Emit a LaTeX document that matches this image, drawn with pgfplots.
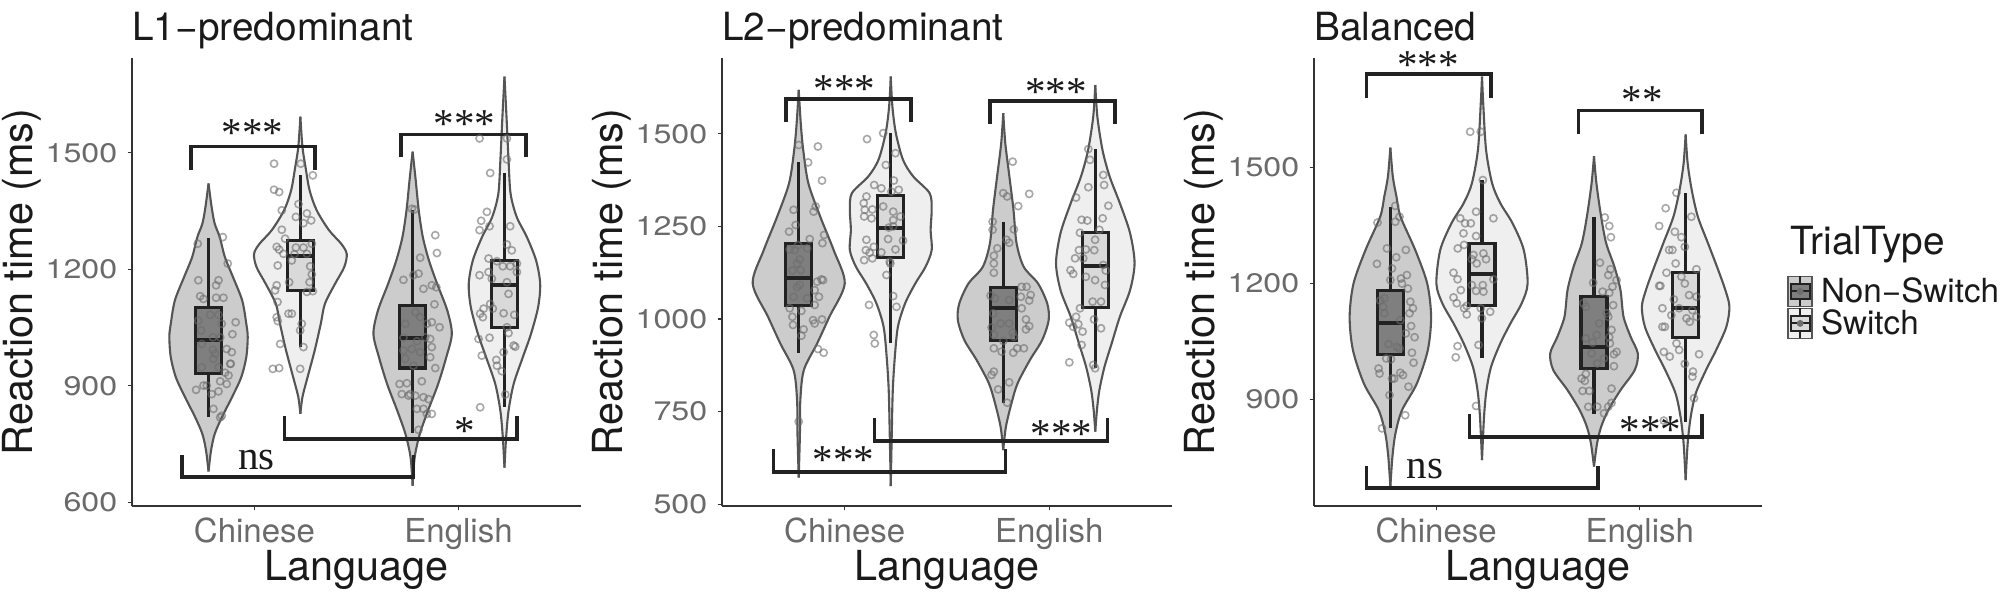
\documentclass[border=0pt]{standalone}
\usepackage{fontspec}
\setmainfont{TeX Gyre Heros}
\newfontfamily\seriffont{Liberation Serif}
\newfontfamily\tickfont{TeX Gyre Heros}[FakeStretch=1.2]
\usepackage{pgfplots}
\pgfplotsset{compat=1.18}
\usepackage{pgfplotstable}

\definecolor{vNS}{HTML}{CCCCCC}
\definecolor{vS}{HTML}{EFEFEF}
\definecolor{bNS}{HTML}{7F7F7F}
\definecolor{bS}{HTML}{D9D9D9}
\definecolor{vline}{HTML}{555555}
\definecolor{bline}{HTML}{222222}
\definecolor{ptc}{HTML}{6E6E6E}
\definecolor{tickc}{HTML}{6A6A6A}
\definecolor{axc}{HTML}{333333}
\definecolor{txt}{HTML}{1A1A1A}

\newcommand{\ticksize}{\fontsize{16.5pt}{18pt}\selectfont}
\newcommand{\yticksize}{\tickfont\fontsize{13.4pt}{16pt}\selectfont}
\newcommand{\labsize}{\fontsize{20.7pt}{24pt}\selectfont}
\newcommand{\titsize}{\fontsize{19.4pt}{22pt}\selectfont}
\newcommand{\sigfont}{\seriffont\fontsize{20.5pt}{22pt}\selectfont}

% violin half-widths (x units) at reaction-time levels
\pgfplotstableread{
y w
680 0
733 0.012
776 0.03
819 0.065
871 0.115
922 0.16
974 0.185
1026 0.192
1060 0.185
1120 0.165
1180 0.12
1232 0.08
1283 0.055
1318 0.03
1361 0.015
1421 0
}\vAcn
\pgfplotstableread{
y w
828 0
871 0.01
922 0.035
991 0.07
1060 0.1
1111 0.12
1163 0.17
1206 0.215
1240 0.227
1266 0.2
1301 0.14
1352 0.08
1404 0.045
1464 0.025
1516 0.01
1593 0
}\vAcs
\pgfplotstableread{
y w
643 0
716 0.01
776 0.035
836 0.075
905 0.125
974 0.165
1034 0.192
1094 0.17
1163 0.12
1223 0.08
1283 0.05
1352 0.03
1430 0.015
1503 0
}\vAen
\pgfplotstableread{
y w
690 0
767 0.008
836 0.02
905 0.045
974 0.09
1034 0.13
1103 0.165
1163 0.175
1223 0.155
1283 0.11
1335 0.06
1395 0.03
1481 0.02
1593 0.01
1696 0
}\vAes
\pgfplotstableread{
y w
572 0
690 0.006
781 0.008
862 0.025
934 0.09
1006 0.15
1096 0.225
1186 0.171
1277 0.105
1367 0.047
1457 0.022
1529 0.01
1619 0
}\vBcn
\pgfplotstableread{
y w
549 0
691 0.005
808 0.01
898 0.02
979 0.035
1042 0.07
1096 0.12
1141 0.17
1186 0.2
1241 0.195
1295 0.2
1340 0.19
1385 0.11
1430 0.06
1502 0.025
1574 0.008
1655 0
}\vBcs
\pgfplotstableread{
y w
646 0
709 0.013
772 0.04
826 0.07
889 0.13
943 0.19
997 0.222
1042 0.215
1096 0.17
1141 0.1
1205 0.065
1295 0.05
1385 0.03
1475 0.01
1556 0
}\vBen
\pgfplotstableread{
y w
696 0
754 0.008
808 0.02
871 0.045
934 0.08
1006 0.12
1078 0.17
1151 0.192
1232 0.17
1313 0.12
1385 0.07
1457 0.035
1547 0.01
1632 0
}\vBes
\pgfplotstableread{
y w
674 0
751 0.01
812 0.025
872 0.057
941 0.13
1028 0.184
1114 0.2
1200 0.181
1287 0.122
1373 0.05
1425 0.03
1477 0.012
1552 0
}\vCcn
\pgfplotstableread{
y w
743 0
855 0.01
924 0.022
985 0.045
1045 0.09
1097 0.14
1149 0.195
1200 0.224
1287 0.205
1356 0.15
1408 0.09
1459 0.05
1546 0.02
1667 0.006
1736 0
}\vCcs
\pgfplotstableread{
y w
726 0
786 0.015
829 0.035
872 0.07
924 0.13
976 0.2
1019 0.215
1062 0.18
1114 0.145
1183 0.13
1244 0.1
1304 0.06
1373 0.035
1459 0.012
1530 0
}\vCen
\pgfplotstableread{
y w
691 0
786 0.01
855 0.025
916 0.05
976 0.1
1028 0.15
1088 0.2
1140 0.215
1183 0.195
1235 0.16
1304 0.11
1373 0.06
1442 0.03
1511 0.01
1586 0
}\vCes

% #1 table, #2 centre, #3 fill colour
\newcommand{\violin}[3]{%
  \addplot[forget plot, smooth, fill=#3, draw=#3, line width=0.4pt] table[x expr=#2+\thisrow{w}, y=y]{#1} -- cycle;
  \addplot[forget plot, smooth, fill=#3, draw=#3, line width=0.4pt] table[x expr=#2-\thisrow{w}, y=y]{#1} -- cycle;
  \addplot[forget plot, smooth, draw=vline, line width=1.05pt] table[x expr=#2+\thisrow{w}, y=y]{#1};
  \addplot[forget plot, smooth, draw=vline, line width=1.05pt] table[x expr=#2-\thisrow{w}, y=y]{#1};
}
% #1 left, #2 centre, #3 right, #4 median, #5 upper quartile, #6 lower quartile, #7 upper whisker, #8 lower whisker, #9 fill
\newcommand{\bx}[9]{%
  \addplot[forget plot, line width=1.6pt, draw=bline] coordinates {(#2,#5) (#2,#7)};
  \addplot[forget plot, line width=1.6pt, draw=bline] coordinates {(#2,#6) (#2,#8)};
  \addplot[forget plot, line width=1.6pt, draw=bline, fill=#9] coordinates {(#1,#6) (#3,#6) (#3,#5) (#1,#5)} -- cycle;
  \addplot[forget plot, line width=2pt, draw=bline] coordinates {(#1,#4) (#3,#4)};
}
\newcommand{\brk}[4]{%
  \addplot[forget plot, line width=1.8pt, color=bline] coordinates {(#1,#4) (#1,#3) (#2,#3) (#2,#4)};
}
\newcommand{\keyimg}[2]{%
  \draw[draw=vline, fill=#1, line width=0.8pt] (0pt,-7.5pt) rectangle (12pt,7.5pt);
  \draw[draw=bline, line width=1pt] (6pt,-7.5pt) -- (6pt,7.5pt);
  \draw[draw=bline, fill=#2, line width=1pt] (1.2pt,-3.8pt) rectangle (10.8pt,3.8pt);
  \draw[draw=bline, line width=1pt] (1.2pt,0pt) -- (10.8pt,0pt);
  \fill[ptc] (6pt,0pt) circle (1.5pt);
}

\pgfplotsset{
  rtstyle/.style={
    scale only axis, height=224pt,
    xmin=0.4, xmax=2.6, xtick={1,2}, xticklabels={Chinese,English},
    axis lines=left, axis line style={-, draw=axc, line width=0.55pt},
    tick align=outside, major tick length=2.2pt, tick style={draw=axc, line width=0.55pt},
    clip=false,
    xticklabel style={font=\ticksize, text=tickc, anchor=base, yshift=-16pt, inner sep=0pt},
    yticklabel style={font=\yticksize, text=tickc, anchor=east, xshift=-5pt, inner sep=0pt},
    xlabel={Language},
    xlabel style={at={(axis description cs:0.5,0)}, anchor=base, yshift=-37pt, font=\labsize, text=txt, inner sep=0pt},
    ylabel={Reaction time (ms)},
    ylabel style={at={(axis description cs:-0.245,0.5)}, anchor=center, font=\labsize, text=txt, inner sep=0pt},
    every axis title shift/.style={yshift=0pt},
    title style={at={(axis description cs:0,1)}, anchor=base west, yshift=2.5pt, font=\titsize, text=txt, inner sep=0pt},
  },
  pts/.style={forget plot, only marks, mark=o, mark size=1.8pt, color=ptc, mark options={line width=0.8pt, opacity=0.6}},
}

\begin{document}
\begin{tikzpicture}
\useasboundingbox (0,0) rectangle (1002pt,300pt);

% ---------------- Panel 1 ----------------
\begin{axis}[rtstyle, at={(66pt,47pt)}, anchor=south west, width=224.5pt,
  ymin=591, ymax=1744, ytick={600,900,1200,1500}, yticklabels={600,900,1200,1500},
  title={L1−predominant}]
\violin{\vAcn}{0.775}{vNS}
\violin{\vAcs}{1.225}{vS}
\violin{\vAen}{1.775}{vNS}
\violin{\vAes}{2.225}{vS}
\bx{0.7115}{0.775}{0.8385}{1019}{1102}{933}{1282}{819}{bNS}
\bx{1.1615}{1.225}{1.2885}{1234}{1275}{1146}{1442}{1001}{bS}
\bx{1.7115}{1.775}{1.8385}{1023}{1107}{946}{1352}{780}{bNS}
\bx{2.1615}{2.225}{2.2885}{1159}{1223}{1051}{1448}{845}{bS}
\addplot[pts] coordinates {(0.845,1283) (0.722,1266) (0.869,1215) (0.725,1172) (0.824,1172) (0.812,1159) (0.734,1131) (0.750,1124) (0.848,1127) (0.783,1083) (0.725,1068) (0.824,1083) (0.908,1064) (0.840,1060) (0.739,1043) (0.892,1033) (0.796,1025) (0.832,1025) (0.742,1008) (0.864,995) (0.889,987) (0.796,993) (0.807,983) (0.799,970) (0.881,957) (0.824,948) (0.856,934) (0.873,927) (0.750,901) (0.832,912) (0.864,905) (0.714,890) (0.824,886) (0.791,879) (0.799,841) (0.840,823) (0.832,819) (0.766,901) (0.742,948) (0.812,1127) (0.884,957)};
\addplot[pts] coordinates {(1.096,1472) (1.227,1472) (1.286,1442) (1.096,1405) (1.121,1399) (1.216,1368) (1.134,1352) (1.203,1335) (1.257,1344) (1.240,1319) (1.278,1326) (1.134,1302) (1.150,1279) (1.109,1258) (1.121,1251) (1.203,1256) (1.240,1256) (1.281,1266) (1.142,1240) (1.196,1239) (1.257,1240) (1.183,1223) (1.114,1210) (1.273,1208) (1.281,1187) (1.170,1167) (1.270,1167) (1.109,1159) (1.101,1146) (1.257,1142) (1.286,1144) (1.113,1116) (1.167,1086) (1.183,1086) (1.109,1077) (1.114,1067) (1.232,1060) (1.224,1043) (1.126,1008) (1.240,1000) (1.090,944) (1.121,946) (1.224,944)};
\addplot[pts] coordinates {(1.771,1356) (1.784,1354) (1.886,1288) (1.894,1242) (1.812,1230) (1.730,1173) (1.779,1185) (1.804,1189) (1.828,1150) (1.869,1159) (1.891,1154) (1.882,1110) (1.739,1060) (1.788,1090) (1.812,1077) (1.845,1060) (1.869,1064) (1.907,1051) (1.730,1024) (1.796,1015) (1.837,1025) (1.861,1021) (1.730,991) (1.771,995) (1.869,1000) (1.812,987) (1.739,970) (1.861,974) (1.779,952) (1.886,946) (1.711,905) (1.747,907) (1.820,912) (1.722,879) (1.755,875) (1.788,875) (1.828,871) (1.853,866) (1.796,841) (1.828,841) (1.845,828) (1.869,828) (1.804,787) (1.763,879)};
\addplot[pts] coordinates {(2.103,1537) (2.237,1537) (2.237,1483) (2.155,1448) (2.139,1348) (2.111,1325) (2.152,1311) (2.103,1301) (2.253,1311) (2.237,1264) (2.261,1249) (2.147,1228) (2.188,1221) (2.103,1185) (2.147,1193) (2.163,1176) (2.217,1208) (2.253,1208) (2.286,1193) (2.286,1215) (2.237,1167) (2.245,1137) (2.155,1111) (2.123,1099) (2.168,1099) (2.106,1086) (2.119,1077) (2.221,1087) (2.273,1083) (2.237,1051) (2.245,1036) (2.152,1024) (2.098,1021) (2.270,1004) (2.278,1001) (2.221,987) (2.114,978) (2.185,967) (2.188,952) (2.212,938) (2.229,878) (2.106,845)};
\brk{0.69}{1.297}{1516}{1457}
\brk{1.717}{2.33}{1547}{1488}
\brk{0.644}{1.779}{666}{722}
\brk{1.147}{2.286}{763}{822}
\node[font=\sigfont, text=txt, anchor=base, inner sep=0pt] at (axis cs:0.99,1515) {***};
\node[font=\sigfont, text=txt, anchor=base, inner sep=0pt] at (axis cs:2.03,1539) {***};
\node[font=\sigfont, text=txt, anchor=base, inner sep=0pt] at (axis cs:2.029,750) {*};
\node[font=\sigfont, text=txt, anchor=base, inner sep=0pt] at (axis cs:1.011,686) {ns};
\end{axis}

% ---------------- Panel 2 ----------------
\begin{axis}[rtstyle, at={(361pt,47pt)}, anchor=south west, width=225pt,
  ymin=495, ymax=1705, ytick={500,750,1000,1250,1500}, yticklabels={500,750,1000,1250,1500},
  title={L2−predominant}]
\violin{\vBcn}{0.775}{vNS}
\violin{\vBcs}{1.225}{vS}
\violin{\vBen}{1.775}{vNS}
\violin{\vBes}{2.225}{vS}
\bx{0.7115}{0.775}{0.8385}{1110}{1205}{1036}{1423}{907}{bNS}
\bx{1.1615}{1.225}{1.2885}{1245}{1333}{1167}{1502}{934}{bS}
\bx{1.7115}{1.775}{1.8385}{1029}{1085}{943}{1263}{774}{bNS}
\bx{2.1615}{2.225}{2.2885}{1144}{1233}{1031}{1459}{867}{bS}
\addplot[pts] coordinates {(0.775,1470) (0.869,1466) (0.821,1423) (0.889,1374) (0.858,1304) (0.750,1295) (0.848,1290) (0.760,1254) (0.728,1236) (0.899,1227) (0.891,1205) (0.829,1216) (0.772,1200) (0.731,1188) (0.755,1186) (0.816,1191) (0.780,1161) (0.767,1150) (0.744,1131) (0.785,1132) (0.886,1107) (0.894,1105) (0.865,1101) (0.780,1092) (0.767,1086) (0.853,1078) (0.874,1060) (0.750,1060) (0.816,1056) (0.853,1038) (0.731,1029) (0.788,1022) (0.744,1006) (0.845,997) (0.853,988) (0.889,999) (0.747,984) (0.799,972) (0.788,955) (0.869,919) (0.897,909) (0.775,723)};
\addplot[pts] coordinates {(1.109,1486) (1.188,1502) (1.248,1448) (1.201,1416) (1.240,1374) (1.144,1362) (1.179,1353) (1.228,1344) (1.264,1349) (1.106,1331) (1.093,1313) (1.098,1295) (1.135,1296) (1.188,1304) (1.237,1290) (1.095,1277) (1.131,1272) (1.272,1277) (1.237,1250) (1.215,1247) (1.106,1214) (1.212,1216) (1.285,1212) (1.142,1195) (1.103,1186) (1.122,1179) (1.179,1180) (1.248,1188) (1.095,1159) (1.135,1164) (1.220,1155) (1.204,1119) (1.237,1062) (1.253,1033) (1.119,1038) (1.142,957) (1.147,934) (1.223,1150) (1.237,1267)};
\addplot[pts] coordinates {(1.821,1425) (1.902,1338) (1.775,1340) (1.794,1331) (1.848,1305) (1.723,1263) (1.827,1242) (1.723,1241) (1.791,1214) (1.746,1191) (1.729,1171) (1.804,1206) (1.729,1150) (1.729,1125) (1.865,1087) (1.889,1087) (1.713,1063) (1.734,1056) (1.861,1060) (1.909,1065) (1.902,1050) (1.804,1051) (1.865,1029) (1.726,1015) (1.886,999) (1.762,988) (1.804,988) (1.902,981) (1.718,977) (1.729,957) (1.821,963) (1.886,972) (1.827,952) (1.775,941) (1.729,921) (1.767,912) (1.824,909) (1.843,921) (1.876,921) (1.729,858) (1.718,849) (1.804,829) (1.750,810) (1.794,774)};
\addplot[pts] coordinates {(2.191,1459) (2.199,1430) (2.264,1389) (2.268,1362) (2.191,1356) (2.289,1306) (2.131,1328) (2.158,1268) (2.186,1266) (2.261,1272) (2.150,1233) (2.245,1241) (2.224,1214) (2.145,1186) (2.179,1188) (2.220,1186) (2.126,1164) (2.166,1164) (2.264,1146) (2.276,1131) (2.104,1132) (2.117,1122) (2.179,1114) (2.224,1105) (2.272,1092) (2.212,1047) (2.253,1047) (2.150,1029) (2.131,1006) (2.219,999) (2.098,990) (2.117,979) (2.142,986) (2.253,975) (2.163,966) (2.158,930) (2.098,883) (2.215,876) (2.224,867)};
\brk{0.713}{1.325}{1595}{1533}
\brk{1.71}{2.32}{1589}{1527}
\brk{0.652}{1.786}{587}{648}
\brk{1.145}{2.285}{671}{733}
\node[font=\sigfont, text=txt, anchor=base, inner sep=0pt] at (axis cs:1.0,1585) {***};
\node[font=\sigfont, text=txt, anchor=base, inner sep=0pt] at (axis cs:2.033,1576) {***};
\node[font=\sigfont, text=txt, anchor=base, inner sep=0pt] at (axis cs:0.995,584) {***};
\node[font=\sigfont, text=txt, anchor=base, inner sep=0pt] at (axis cs:2.06,654) {***};
\end{axis}

% ---------------- Panel 3 ----------------
\begin{axis}[rtstyle, at={(657pt,47pt)}, anchor=south west, width=224pt,
  ymin=624, ymax=1784, ytick={900,1200,1500}, yticklabels={900,1200,1500},
  title={Balanced},
  legend style={at={(axis description cs:1.0558,0.5156)}, anchor=north west, draw=none, fill=none,
    inner sep=0pt, row sep=0pt, font=\fontsize{16.6pt}{18pt}\selectfont,
    nodes={inner sep=0pt, anchor=west, text=txt},
    /tikz/every odd column/.append style={column sep=4pt}},
  legend cell align=left]
\violin{\vCcn}{0.775}{vNS}
\violin{\vCcs}{1.225}{vS}
\violin{\vCen}{1.775}{vNS}
\violin{\vCes}{2.225}{vS}
\bx{0.7115}{0.775}{0.8385}{1099}{1181}{1016}{1399}{825}{bNS}
\bx{1.1615}{1.225}{1.2885}{1226}{1304}{1144}{1468}{1006}{bS}
\bx{1.7115}{1.775}{1.8385}{1036}{1166}{979}{1373}{862}{bNS}
\bx{2.1615}{2.225}{2.2885}{1136}{1228}{1061}{1434}{842}{bS}
\addplot[pts] coordinates {(0.799,1401) (0.820,1373) (0.712,1358) (0.799,1360) (0.758,1291) (0.851,1287) (0.804,1268) (0.709,1251) (0.783,1239) (0.856,1222) (0.827,1213) (0.832,1200) (0.775,1209) (0.861,1187) (0.745,1162) (0.725,1156) (0.739,1140) (0.873,1153) (0.886,1136) (0.745,1123) (0.869,1123) (0.824,1105) (0.877,1090) (0.851,1071) (0.894,1061) (0.766,1043) (0.820,1032) (0.881,1021) (0.755,1006) (0.778,1004) (0.889,995) (0.717,980) (0.722,967) (0.824,969) (0.783,954) (0.794,954) (0.837,963) (0.864,933) (0.771,911) (0.848,859) (0.734,825) (0.807,1036)};
\addplot[pts] coordinates {(1.167,1593) (1.219,1593) (1.229,1468) (1.196,1386) (1.118,1369) (1.281,1369) (1.142,1356) (1.170,1356) (1.134,1330) (1.196,1323) (1.106,1291) (1.137,1300) (1.183,1274) (1.232,1278) (1.175,1263) (1.245,1263) (1.199,1252) (1.085,1228) (1.105,1211) (1.281,1211) (1.175,1196) (1.229,1196) (1.121,1183) (1.196,1181) (1.232,1179) (1.085,1164) (1.101,1149) (1.137,1136) (1.150,1120) (1.219,1136) (1.265,1127) (1.224,1110) (1.105,1038) (1.208,1041) (1.096,1009) (1.196,883) (1.150,1142)};
\addplot[pts] coordinates {(1.828,1371) (1.850,1349) (1.858,1320) (1.804,1254) (1.856,1237) (1.845,1222) (1.886,1209) (1.771,1202) (1.866,1192) (1.817,1179) (1.850,1176) (1.722,1149) (1.735,1140) (1.869,1144) (1.837,1123) (1.845,1114) (1.801,1097) (1.861,1080) (1.788,1067) (1.850,1061) (1.735,1058) (1.768,1047) (1.853,1045) (1.886,1023) (1.873,1017) (1.763,1019) (1.824,1006) (1.791,993) (1.873,986) (1.735,966) (1.714,954) (1.730,948) (1.719,922) (1.752,922) (1.861,928) (1.747,881) (1.791,881) (1.845,881) (1.861,891) (1.824,864)};
\addplot[pts] coordinates {(2.180,1435) (2.127,1395) (2.095,1349) (2.253,1373) (2.172,1334) (2.204,1320) (2.144,1287) (2.160,1287) (2.221,1295) (2.176,1252) (2.131,1228) (2.204,1218) (2.278,1237) (2.221,1200) (2.095,1194) (2.101,1194) (2.167,1159) (2.242,1170) (2.278,1166) (2.111,1136) (2.193,1136) (2.258,1131) (2.155,1118) (2.229,1110) (2.278,1114) (2.111,1088) (2.245,1101) (2.180,1045) (2.118,1023) (2.193,1028) (2.147,1011) (2.291,1017) (2.221,992) (2.261,972) (2.258,959) (2.266,903) (2.118,845) (2.123,1088)};
\brk{0.657}{1.268}{1742}{1680}
\brk{1.698}{2.306}{1648}{1587}
\brk{0.657}{1.795}{670}{727}
\brk{1.163}{2.306}{803}{862}
\node[font=\sigfont, text=txt, anchor=base, inner sep=0pt] at (axis cs:0.959,1732) {***};
\node[font=\sigfont, text=txt, anchor=base, inner sep=0pt] at (axis cs:2.013,1640) {**};
\node[font=\sigfont, text=txt, anchor=base, inner sep=0pt] at (axis cs:2.052,787) {***};
\node[font=\sigfont, text=txt, anchor=base, inner sep=0pt] at (axis cs:0.946,695) {ns};
\node[font=\fontsize{19.4pt}{22pt}\selectfont, text=txt, anchor=base west, inner sep=0pt] at (axis description cs:1.0625,0.5603) {TrialType};
\addlegendimage{legend image code/.code={\keyimg{vNS}{bNS}}}
\addlegendentry{Non−Switch}
\addlegendimage{legend image code/.code={\keyimg{vS}{bS}}}
\addlegendentry{Switch}
\end{axis}
\end{tikzpicture}
\end{document}
